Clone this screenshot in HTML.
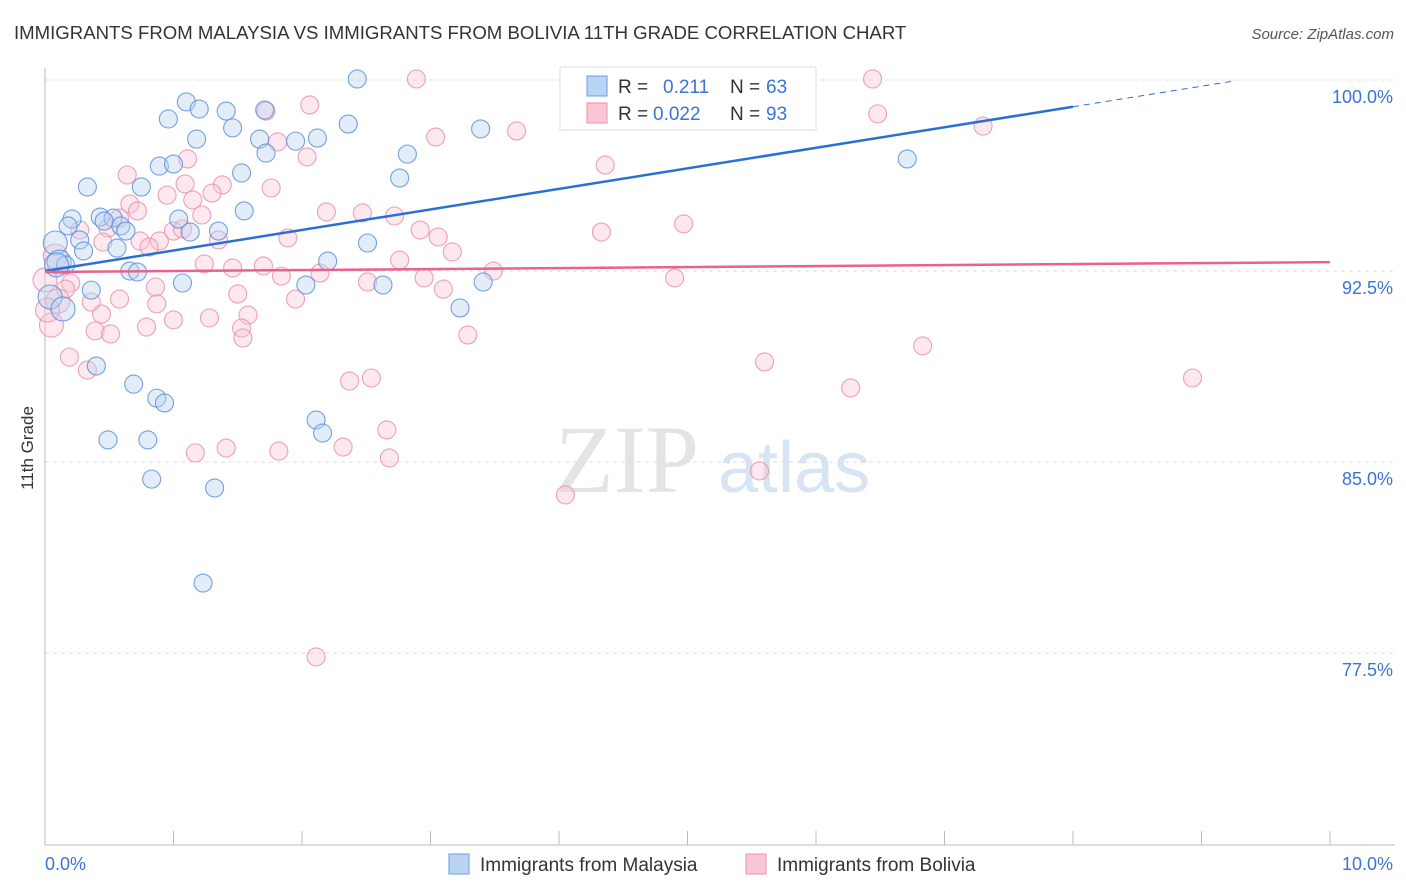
<!DOCTYPE html>
<html><head><meta charset="utf-8"><style>
body{margin:0;background:#fff;font-family:"Liberation Sans",sans-serif}
svg{display:block}
</style></head><body>
<svg id="chart" width="1406" height="892" xmlns="http://www.w3.org/2000/svg">
<text x="14" y="39" font-size="18.6" fill="#333">IMMIGRANTS FROM MALAYSIA VS IMMIGRANTS FROM BOLIVIA 11TH GRADE CORRELATION CHART</text>
<text x="1394" y="39" font-size="15" fill="#555" font-style="italic" text-anchor="end">Source: ZipAtlas.com</text>
<text x="40" y="455" font-size="17" fill="#333" transform="rotate(-90 33 455)" text-anchor="middle">11th Grade</text>
<g><text x="555" y="492" font-size="96" fill="#e4e4e4" font-family="Liberation Serif,serif">ZIP</text><text x="718" y="492" font-size="72" fill="#d6e4f4">atlas</text></g>
<g id="grid"></g><g id="pts"></g><g id="lines"></g>
<g>
<rect x="560" y="67" width="256" height="63" fill="#fff" stroke="#ddd"/>
<rect x="587" y="76" width="20" height="20" fill="#b9d3f3" stroke="#6a9de0"/>
<rect x="587" y="103" width="20" height="20" fill="#f8c6d4" stroke="#ec8fab"/>
<text x="618" y="93" font-size="19" fill="#333">R =</text>
<text x="663" y="93" font-size="19" fill="#3a74d4">0.211</text>
<text x="730" y="93" font-size="19" fill="#333">N =</text>
<text x="766" y="93" font-size="19" fill="#3a74d4">63</text>
<text x="618" y="120" font-size="19" fill="#333">R =</text>
<text x="653" y="120" font-size="19" fill="#3a74d4">0.022</text>
<text x="730" y="120" font-size="19" fill="#333">N =</text>
<text x="766" y="120" font-size="19" fill="#3a74d4">93</text>
</g>
<g>
<rect x="449" y="854" width="20" height="20" fill="#b9d3f3" stroke="#6a9de0"/>
<text x="480" y="871" font-size="19" fill="#333">Immigrants from Malaysia</text>
<rect x="746" y="854" width="20" height="20" fill="#f8c6d4" stroke="#ec8fab"/>
<text x="777" y="871" font-size="19" fill="#333">Immigrants from Bolivia</text>
</g>
</svg>
<script>
const yTicks=[100,92.5,85,77.5];
const yTickLabels=["100.0%","92.5%","85.0%","77.5%"];
const xTickLabels=["0.0%","10.0%"];
const blueX=[2.43,1.10,1.20,1.41,1.71,0.96,2.36,1.46,3.39,1.18,1.67,1.95,2.12,1.72,2.82,0.89,1.00,6.71,1.53,2.76,0.33,0.75,1.55,0.21,0.43,0.53,0.46,1.04,0.59,0.63,0.18,1.35,1.13,0.08,0.27,0.56,0.30,2.51,0.11,0.16,2.20,0.66,0.72,1.07,2.03,2.63,3.41,0.36,0.04,0.14,3.23,0.40,0.69,0.87,0.93,2.11,2.16,0.49,0.80,0.83,1.32,1.23,0.09];
const blueY=[100.04,99.14,98.86,98.78,98.82,98.47,98.27,98.12,98.08,97.68,97.68,97.60,97.72,97.13,97.09,96.62,96.70,96.90,96.35,96.15,95.80,95.80,94.86,94.54,94.62,94.58,94.46,94.54,94.27,94.07,94.27,94.07,94.03,93.60,93.72,93.40,93.29,93.60,92.85,92.74,92.89,92.50,92.46,92.03,91.95,91.95,92.07,91.75,91.48,91.01,91.05,88.77,88.06,87.51,87.32,86.65,86.14,85.87,85.87,84.33,83.98,80.25,92.74];
const pinkX=[2.89,6.44,4.09,1.72,2.06,6.48,3.04,3.67,7.30,1.81,2.04,4.36,1.11,0.64,1.76,1.09,1.38,0.95,1.30,1.15,0.66,0.72,0.58,2.19,2.47,2.72,1.22,0.49,0.27,1.00,1.07,2.92,4.33,4.97,3.06,1.89,1.35,0.45,0.74,0.89,0.81,3.17,0.08,2.76,1.24,1.46,1.70,2.14,3.49,4.90,2.51,0.20,0.16,1.84,2.95,3.10,0.86,1.50,1.95,0.10,0.36,0.58,0.87,0.44,1.28,1.58,1.00,0.79,1.53,0.39,0.51,1.54,3.29,0.05,6.83,0.19,0.33,5.60,2.37,2.54,6.27,8.93,2.66,2.32,1.41,1.17,1.82,2.68,5.56,4.05,2.11,0.02,0.00];
const pinkY=[100.04,100.04,99.29,98.78,99.02,98.67,97.76,98.00,98.19,97.57,96.98,96.66,96.90,96.27,95.76,95.92,95.88,95.48,95.56,95.29,95.13,94.86,94.58,94.82,94.78,94.66,94.70,94.19,94.11,94.07,94.15,94.11,94.03,94.35,93.84,93.80,93.72,93.64,93.68,93.68,93.44,93.25,93.09,92.93,92.78,92.62,92.70,92.42,92.50,92.23,92.07,92.03,91.79,92.30,92.23,91.79,91.87,91.60,91.40,91.32,91.28,91.40,91.21,90.81,90.66,90.77,90.58,90.30,90.26,90.15,90.03,89.87,89.99,90.38,89.56,89.12,88.61,88.93,88.18,88.30,87.91,88.30,86.26,85.59,85.55,85.36,85.43,85.16,84.65,83.71,77.35,90.97,92.15];
const blueTrend=[92.5,98.95];   // y at x=0 and x=8 (solid end)
const pinkTrend=[92.46,92.85];  // y at x=0 and x=10
const NS="http://www.w3.org/2000/svg";
const sx=v=>45+v*128.5;
const sy=v=>80+(100-v)*25.47;
function mk(tag,attrs,parent){const e=document.createElementNS(NS,tag);for(const k in attrs)e.setAttribute(k,attrs[k]);parent.appendChild(e);return e;}
const grid=document.getElementById('grid');
yTicks.forEach((t,i)=>{
  const l=mk('line',{x1:45,x2:1395,y1:sy(t),y2:sy(t),stroke:'#ddd','stroke-dasharray':'4,4'},grid);
  
  
  const tx=mk('text',{x:1393,y:sy(t)+23,'font-size':18,fill:'#3a74d4','text-anchor':'end'},grid);
  tx.textContent=yTickLabels[i];
  
  
});
const ax=mk('line',{x1:45,x2:45,y1:68,y2:845,stroke:'#bbb'},grid);


const bx=mk('line',{x1:45,x2:1395,y1:845,y2:845,stroke:'#bbb'},grid);


for(let i=0;i<=10;i++){const t=mk('line',{x1:sx(i),x2:sx(i),y1:831,y2:845,stroke:'#bbb'},grid);
  
  }
[[0,'start',45],[10,'end',1393]].forEach((d,i)=>{const t=mk('text',{x:d[2],y:870,'font-size':18,fill:'#3a74d4','text-anchor':d[1]},grid);t.textContent=xTickLabels[i];
  
  });
const pts=document.getElementById('pts');
function draw(X,Y,fill,stroke,name){X.forEach((x,i)=>{const r=x<0.15?12:9;
  const c=mk('circle',{cx:sx(x),cy:sy(Y[i]),r:r,fill:fill,'fill-opacity':0.4,stroke:stroke,'stroke-width':1.1,'stroke-opacity':0.85},pts);
  
  });}
draw(pinkX,pinkY,'#f8c6d4','#ec8fab','bolivia-point');
draw(blueX,blueY,'#b9d3f3','#5b90dc','malaysia-point');
const lines=document.getElementById('lines');
const slope=(blueTrend[1]-blueTrend[0])/8;
const b1=mk('line',{x1:sx(0),y1:sy(blueTrend[0]),x2:sx(8),y2:sy(blueTrend[1]),stroke:'#2a6fd6','stroke-width':2.5},lines);


const b2=mk('line',{x1:sx(8),y1:sy(blueTrend[1]),x2:sx(9.27),y2:sy(blueTrend[0]+slope*9.27),stroke:'#2a6fd6','stroke-width':1,'stroke-dasharray':'6,5'},lines);


const p1=mk('line',{x1:sx(0),y1:sy(pinkTrend[0]),x2:sx(10),y2:sy(pinkTrend[1]),stroke:'#e8628c','stroke-width':2.5},lines);


</script>
</body></html>
